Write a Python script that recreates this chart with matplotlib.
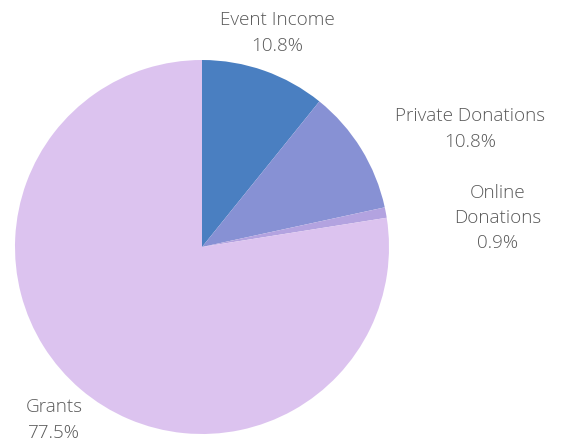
import matplotlib
matplotlib.use("Agg")
import matplotlib.pyplot as plt

categories = ["Event Income", "Private Donations", "Online Donations", "Grants"]
values = [10.8, 10.8, 0.9, 77.5]
label_texts = ["Event Income\n10.8%", "Private Donations\n10.8%", "Online\nDonations\n0.9%", "Grants\n77.5%"]
colors = ["#4a7fc1", "#8791d4", "#b3a3e0", "#dcc3ef"]

W, H = 561, 441
fig = plt.figure(figsize=(W / 100, H / 100), dpi=100)
cx, cy, r = 202, 247, 187
ax = fig.add_axes([(cx - r) / W, (H - cy - r) / H, 2 * r / W, 2 * r / H])
ax.pie(values, colors=colors, startangle=90, counterclock=False, radius=1,
       wedgeprops=dict(linewidth=0))
ax.set_xlim(-1, 1)
ax.set_ylim(-1, 1)
ax.set_aspect("equal")
ax.axis("off")

label_pos = [(277, 33), (470, 129), (498, 218), (54, 420)]
for txt, (px, py) in zip(label_texts, label_pos):
    fig.text(px / W, 1 - py / H, txt, ha="center", va="center", fontsize=13.6,
             color="#595959", family=["Open Sans", "DejaVu Sans"], fontweight="light",
             linespacing=1.52)

fig.savefig("out.png", dpi=100)
